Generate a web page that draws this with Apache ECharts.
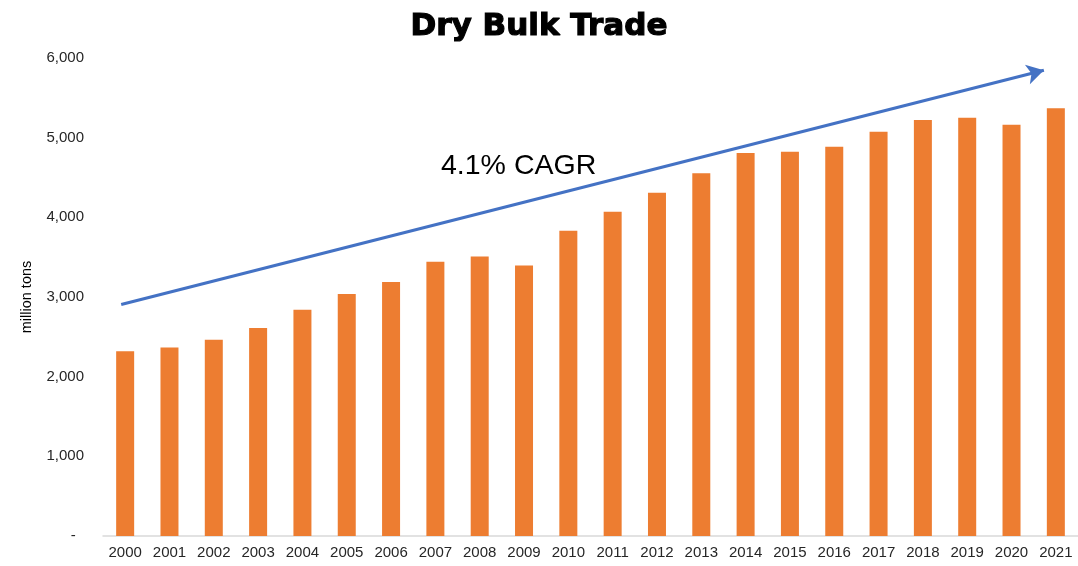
<!DOCTYPE html>
<html>
<head>
<meta charset="utf-8">
<script src="https://cdn.jsdelivr.net/npm/echarts@6/dist/echarts.min.js"></script>
<style>
  html, body { margin: 0; padding: 0; background: #fff; }
  #chart { width: 1078px; height: 566px; }
</style>
</head>
<body>
<div id="chart"></div>
<script>
// 年份与干散货贸易量（百万吨）
var years = ["2000", "2001", "2002", "2003", "2004", "2005", "2006", "2007", "2008", "2009", "2010",
  "2011", "2012", "2013", "2014", "2015", "2016", "2017", "2018", "2019", "2020", "2021"];
var tradeVolume = [2320, 2365, 2462, 2610, 2839, 3038, 3189, 3444, 3507, 3394, 3832,
  4070, 4309, 4554, 4809, 4822, 4885, 5075, 5222, 5251, 5163, 5370];
// 趋势箭头的起止点 [x位置(类目序号), 值]
var trendStart = [-0.09, 2906];
var trendEnd = [20.73, 5846];

var chart = echarts.init(document.getElementById("chart"));

var option = {
  animation: false,
  title: {
    text: "Dry Bulk Trade",
    left: "center",
    top: 6,
    textStyle: {
      fontFamily: "DejaVu Sans",
      fontWeight: 900,
      fontSize: 31,
      color: "#000",
      textBorderColor: "#000",
      textBorderWidth: 1.2
    }
  },
  grid: { left: 103, right: -3, top: 58, bottom: 30 },
  xAxis: [
    {
      type: "category",
      data: years,
      axisTick: { show: false },
      axisLine: { lineStyle: { color: "#d9d9d9", width: 1.5 } },
      axisLabel: {
        color: "#262626",
        fontSize: 15,
        fontFamily: "Liberation Sans",
        margin: 9,
        interval: 0,
        hideOverlap: false
      }
    },
    {
      type: "value",
      min: -0.5,
      max: 21.5,
      show: false
    }
  ],
  yAxis: {
    type: "value",
    min: 0,
    max: 6000,
    interval: 1000,
    name: "million tons",
    nameLocation: "middle",
    nameGap: 69,
    nameTextStyle: { color: "#000", fontSize: 14.5, fontFamily: "Liberation Sans" },
    splitLine: { show: false },
    axisLine: { show: false },
    axisTick: { show: false },
    axisLabel: {
      color: "#262626",
      fontSize: 15,
      fontFamily: "Liberation Sans",
      margin: 19,
      formatter: function (v) {
        return v === 0 ? "-  " : v.toLocaleString("en-US");
      }
    }
  },
  graphic: [
    {
      type: "text",
      left: 441,
      top: 152,
      style: {
        text: "4.1% CAGR",
        fill: "#000",
        font: "28.5px Liberation Sans"
      }
    }
  ],
  series: [
    {
      name: "Dry Bulk Trade",
      type: "bar",
      data: tradeVolume,
      barWidth: 18,
      itemStyle: { color: "#ed7d31" }
    },
    {
      name: "CAGR",
      type: "line",
      xAxisIndex: 1,
      data: [],
      markLine: {
        silent: true,
        symbol: ["none", "arrow"],
        symbolSize: [15, 17],
        label: { show: false },
        lineStyle: { color: "#4472c4", width: 3, type: "solid" },
        data: [[{ coord: trendStart }, { coord: trendEnd }]]
      }
    }
  ]
};

chart.setOption(option);
</script>
</body>
</html>
